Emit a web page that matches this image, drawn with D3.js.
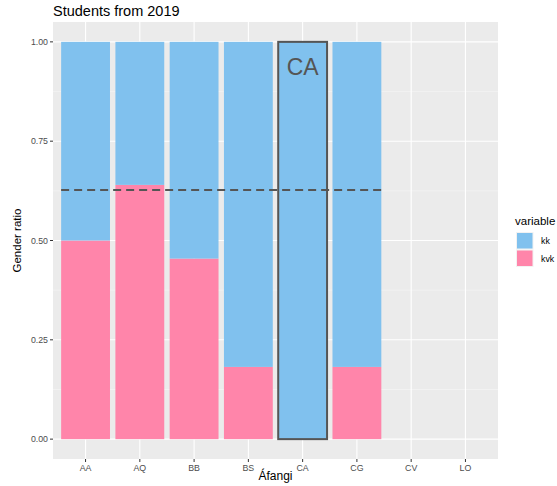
<!DOCTYPE html>
<html><head><meta charset="utf-8">
<script src="https://cdn.jsdelivr.net/npm/d3@7"></script>
<style>body{margin:0;background:#fff;font-family:"Liberation Sans",Arial,sans-serif;}</style>
</head><body><svg id="c" width="557" height="486"></svg>
<script>
const categories = ["AA","AQ","BB","BS","CA","CG","CV","LO"];
const barCategories = ["AA","AQ","BB","BS","CA","CG"];
const kvkValues = [0.5, 0.64, 0.4545, 0.1818, 0, 0.1818];
const kkValues = [0.5, 0.36, 0.5455, 0.8182, 1, 0.8182];
const meanLine = 0.627;
const highlight = "CA";
const yTicks = [0, 0.25, 0.5, 0.75, 1];
const yMinor = [0.125, 0.375, 0.625, 0.875];
const seriesNames = ["kk","kvk"];
const colors = {kk:"#80C1EE", kvk:"#FF85AA"};

const svg = d3.select("#c");
const P = {l:53, r:498, t:22, b:459};
const x = d3.scalePoint().domain(categories).range([P.l, P.r]).padding(0.6);
const step = x.step();
const bw = step*0.9;
const y = d3.scaleLinear().domain([-0.05, 1.05]).range([P.b, P.t]);

svg.append("rect").attr("x",P.l).attr("y",P.t).attr("width",P.r-P.l).attr("height",P.b-P.t).attr("fill","#EBEBEB");
const g = svg.append("g");
yMinor.forEach(v=>g.append("line").attr("x1",P.l).attr("x2",P.r).attr("y1",y(v)).attr("y2",y(v)).attr("stroke","#F5F5F5").attr("stroke-width",0.6));
yTicks.forEach(v=>g.append("line").attr("x1",P.l).attr("x2",P.r).attr("y1",y(v)).attr("y2",y(v)).attr("stroke","#fff").attr("stroke-width",1.1));
categories.forEach(c=>g.append("line").attr("x1",x(c)).attr("x2",x(c)).attr("y1",P.t).attr("y2",P.b).attr("stroke","#fff").attr("stroke-width",1.1));

// stacked bars
barCategories.forEach((c,i)=>{
  const k = kvkValues[i], kk = kkValues[i];
  if (k>0) svg.append("rect").attr("x",x(c)-bw/2).attr("width",bw).attr("y",y(k)).attr("height",y(0)-y(k)).attr("fill",colors.kvk);
  svg.append("rect").attr("x",x(c)-bw/2).attr("width",bw).attr("y",y(k+kk)).attr("height",y(k)-y(k+kk)).attr("fill",colors.kk);
});

// highlight
svg.append("rect").attr("x",x(highlight)-bw/2).attr("width",bw).attr("y",y(1)).attr("height",y(0)-y(1))
  .attr("fill","none").attr("stroke","#555").attr("stroke-width",2);
svg.append("text").attr("x",x(highlight)).attr("y",y(1)+33).attr("text-anchor","middle")
  .attr("font-size",23).attr("fill","#555").text(highlight);

// mean line
svg.append("line").attr("x1",x(barCategories[0])-bw/2).attr("x2",x(barCategories[barCategories.length-1])+bw/2)
  .attr("y1",y(meanLine)).attr("y2",y(meanLine)).attr("stroke","#555").attr("stroke-width",2).attr("stroke-dasharray","8,5");

// axes
const ya = svg.append("g");
yTicks.forEach(v=>{
  ya.append("line").attr("x1",P.l-3).attr("x2",P.l).attr("y1",y(v)).attr("y2",y(v)).attr("stroke","#333").attr("stroke-width",1);
  ya.append("text").attr("x",P.l-5).attr("y",y(v)+3).attr("text-anchor","end").attr("font-size",8.8).attr("fill","#4D4D4D").text(d3.format(".2f")(v));
});
categories.forEach(c=>{
  ya.append("line").attr("x1",x(c)).attr("x2",x(c)).attr("y1",P.b).attr("y2",P.b+3).attr("stroke","#333").attr("stroke-width",1);
  ya.append("text").attr("x",x(c)).attr("y",P.b+12).attr("text-anchor","middle").attr("font-size",8.8).attr("fill","#4D4D4D").text(c);
});
svg.append("text").attr("x",(P.l+P.r)/2).attr("y",480).attr("text-anchor","middle").attr("font-size",12).attr("fill","#000").text("Áfangi");
svg.append("text").attr("transform",`translate(21,${(P.t+P.b)/2}) rotate(-90)`).attr("text-anchor","middle").attr("font-size",11.5).attr("fill","#000").text("Gender ratio");
svg.append("text").attr("x",P.l).attr("y",16).attr("font-size",14.5).attr("fill","#000").text("Students from 2019");

// legend
const L = svg.append("g");
L.append("text").attr("x",515).attr("y",225).attr("font-size",11.5).attr("fill","#000").text("variable");
seriesNames.forEach((s,i)=>{
  L.append("rect").attr("x",516).attr("y",232+i*17.5).attr("width",17.5).attr("height",17.5).attr("fill","#F2F2F2");
  L.append("rect").attr("x",517).attr("y",233+i*17.5).attr("width",15.5).attr("height",15.5).attr("fill",colors[s]);
  L.append("text").attr("x",541).attr("y",244+i*17.5).attr("font-size",8.8).attr("fill","#000").text(s);
});
</script></body></html>
